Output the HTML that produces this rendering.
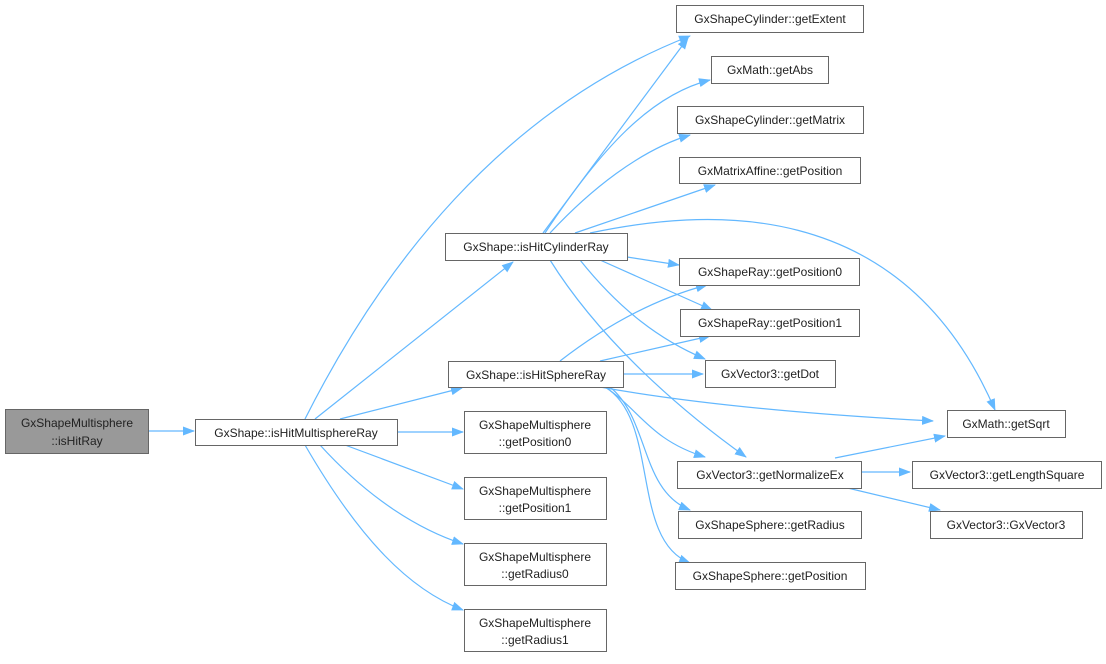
<!DOCTYPE html>
<html><head><meta charset="utf-8"><style>
html,body{margin:0;padding:0;background:#fff;}
svg text{font-family:"Liberation Sans",Arial,sans-serif;font-size:12px;fill:#222;}
</style></head><body>
<svg width="1106" height="659" viewBox="0 0 1106 659" xmlns="http://www.w3.org/2000/svg">
<defs><marker id="a" viewBox="0 0 12 10" refX="11" refY="5" markerWidth="12" markerHeight="10" markerUnits="userSpaceOnUse" orient="auto"><path d="M0,0.5 L12,5 L0,9.5 z" fill="#63b8ff"/></marker></defs>
<g fill="none" stroke="#63b8ff" stroke-width="1.2" marker-end="url(#a)">
<path d="M148,431 L194,431"/>
<path d="M315,419 L513,262"/>
<path d="M305,419 C380,270 500,110 690,36"/>
<path d="M340,419 L462,388"/>
<path d="M397,432 L463,432"/>
<path d="M345,445 L463,489"/>
<path d="M320,445 C370,500 420,530 463,544"/>
<path d="M305,445 C360,540 410,590 463,610"/>
<path d="M543,233 L688,38"/>
<path d="M545,233 C600,150 650,95 710,80"/>
<path d="M550,233 C590,190 640,150 690,135"/>
<path d="M575,233 L715,185"/>
<path d="M590,233 C700,210 900,190 995,410"/>
<path d="M627,257 L679,265"/>
<path d="M600,260 L712,310"/>
<path d="M580,260 C620,310 660,340 705,359"/>
<path d="M550,260 C600,340 680,410 746,457"/>
<path d="M560,361 C600,330 650,300 707,285"/>
<path d="M600,361 L710,336"/>
<path d="M623,374 L703,374"/>
<path d="M600,387 C700,405 820,415 933,421"/>
<path d="M605,387 C640,410 650,440 705,457"/>
<path d="M610,387 C650,420 640,490 690,510"/>
<path d="M605,387 C660,420 630,540 690,563"/>
<path d="M835,458 L945,436"/>
<path d="M862,472 L910,472"/>
<path d="M835,485 L940,510"/>
</g>
<g stroke="#666" stroke-width="1">
<rect x="5.5" y="409.5" width="143" height="44" fill="#999"/>
<g fill="#fff">
<rect x="195.5" y="419.5" width="202" height="26"/>
<rect x="445.5" y="233.5" width="182" height="27"/>
<rect x="448.5" y="361.5" width="175" height="26"/>
<rect x="464.5" y="411.5" width="142" height="42"/>
<rect x="464.5" y="477.5" width="142" height="42"/>
<rect x="464.5" y="543.5" width="142" height="42"/>
<rect x="464.5" y="609.5" width="142" height="42"/>
<rect x="676.5" y="5.5" width="187" height="27"/>
<rect x="711.5" y="56.5" width="117" height="27"/>
<rect x="677.5" y="106.5" width="186" height="27"/>
<rect x="679.5" y="157.5" width="181" height="26"/>
<rect x="679.5" y="258.5" width="180" height="27"/>
<rect x="680.5" y="309.5" width="179" height="27"/>
<rect x="705.5" y="360.5" width="130" height="27"/>
<rect x="677.5" y="461.5" width="184" height="27"/>
<rect x="678.5" y="511.5" width="183" height="27"/>
<rect x="675.5" y="562.5" width="190" height="27"/>
<rect x="947.5" y="410.5" width="118" height="27"/>
<rect x="912.5" y="461.5" width="189" height="27"/>
<rect x="930.5" y="511.5" width="152" height="27"/>
</g></g>
<g text-anchor="middle">
<text x="77" y="427">GxShapeMultisphere</text><text x="77" y="445">::isHitRay</text>
<text x="296" y="437">GxShape::isHitMultisphereRay</text>
<text x="536" y="251">GxShape::isHitCylinderRay</text>
<text x="536" y="379">GxShape::isHitSphereRay</text>
<text x="535" y="429">GxShapeMultisphere</text><text x="535" y="446">::getPosition0</text>
<text x="535" y="495">GxShapeMultisphere</text><text x="535" y="512">::getPosition1</text>
<text x="535" y="561">GxShapeMultisphere</text><text x="535" y="578">::getRadius0</text>
<text x="535" y="627">GxShapeMultisphere</text><text x="535" y="644">::getRadius1</text>
<text x="770" y="23">GxShapeCylinder::getExtent</text>
<text x="770" y="74">GxMath::getAbs</text>
<text x="770" y="124">GxShapeCylinder::getMatrix</text>
<text x="770" y="175">GxMatrixAffine::getPosition</text>
<text x="770" y="276">GxShapeRay::getPosition0</text>
<text x="770" y="327">GxShapeRay::getPosition1</text>
<text x="770" y="378">GxVector3::getDot</text>
<text x="770" y="479">GxVector3::getNormalizeEx</text>
<text x="770" y="529">GxShapeSphere::getRadius</text>
<text x="770" y="580">GxShapeSphere::getPosition</text>
<text x="1006" y="428">GxMath::getSqrt</text>
<text x="1007" y="479">GxVector3::getLengthSquare</text>
<text x="1006" y="529">GxVector3::GxVector3</text>
</g>
</svg>
</body></html>
